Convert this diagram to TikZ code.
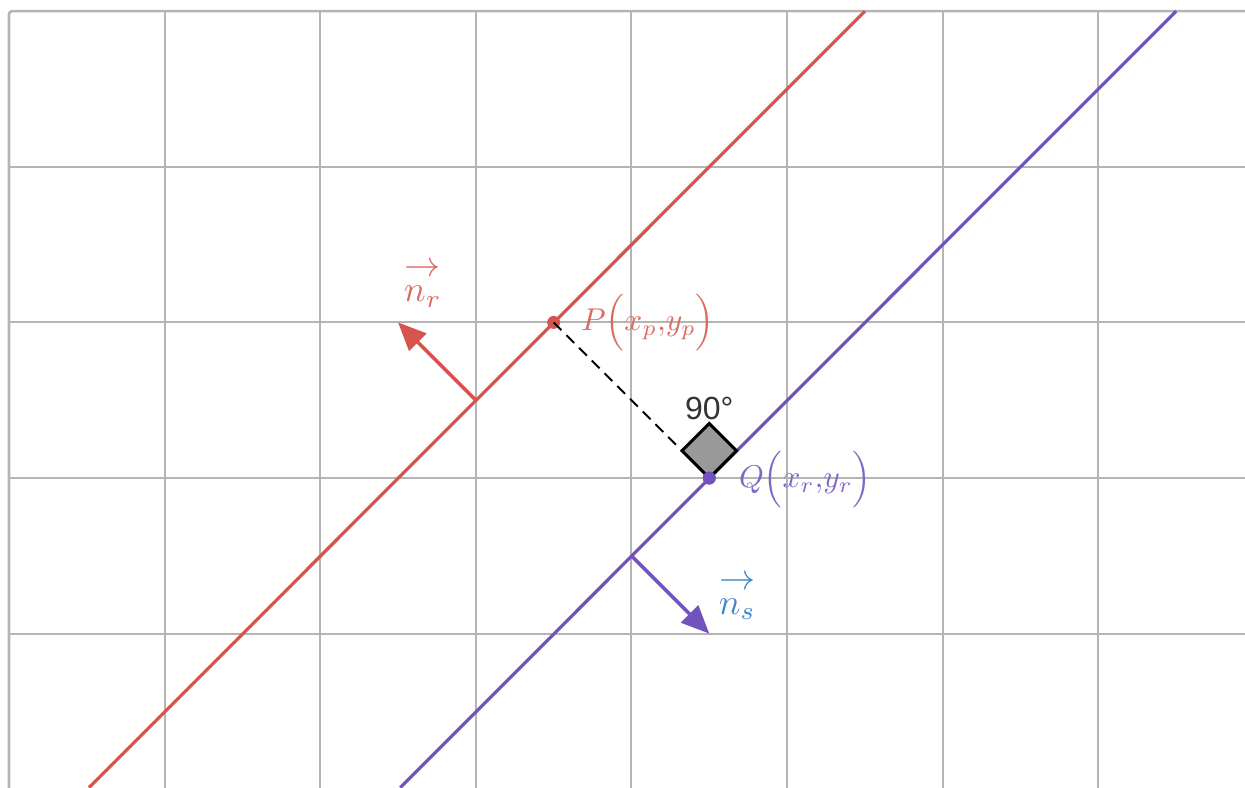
\documentclass[tikz,border=0pt]{standalone}
\usepackage{fontspec}
\usepackage{graphicx}
\newfontfamily\arialf{Liberation Sans}
\usetikzlibrary{arrows.meta}
\definecolor{gridc}{HTML}{B4B4B4}
\definecolor{redc}{HTML}{D6534E}
\definecolor{redt}{HTML}{DB6A64}
\definecolor{purc}{HTML}{7352BE}
\definecolor{purt}{HTML}{8066C8}
\definecolor{bluet}{HTML}{4286C8}
\newcommand{\ptlab}[1]{\scalebox{3.15}{#1}}
\newcommand{\veclab}[1]{\scalebox{3.6}{$\begin{array}{@{}c@{}}\rightarrow\\[-5pt] #1\end{array}$}}
\tikzset{
  gridline/.style={draw=gridc, line width=2pt},
  redline/.style={draw=redc, line width=3.2pt},
  purline/.style={draw=purc, line width=3.2pt},
  vecarrow/.style={line width=3.6pt, -{Triangle[length=28pt,width=24pt]}},
  mlabel/.style={inner sep=0pt},
  dot/.style={circle, inner sep=0pt, minimum size=13pt},
}
\begin{document}
\begin{tikzpicture}[x=155.6pt,y=155.6pt]
\useasboundingbox (-0.058,-1.986) rectangle (7.943,3.072);
% grid
\foreach \x in {1,...,7} \draw[gridline] (\x,-2.05) -- (\x,3);
\foreach \y in {-1,0,1,2} \draw[gridline] (0,\y) -- (8,\y);
\draw[gridline, line width=2.6pt, rounded corners=3pt] (0,-2.05) -- (0,3) -- (8,3);
% lines
\coordinate (rA) at (0.514,-1.99);
\coordinate (rB) at (5.5,3);
\coordinate (sA) at (2.514,-1.99);
\coordinate (sB) at (7.5,3);
\draw[redline] (rA) -- (rB);
\draw[purline] (sA) -- (sB);
% normal vectors
\coordinate (nrbase) at (3,0.5);
\coordinate (nrtip) at (2.5,1);
\coordinate (nsbase) at (4,-0.5);
\coordinate (nstip) at (4.5,-1);
\draw[vecarrow, draw=redc, fill=redc] (nrbase) -- (nrtip);
\draw[vecarrow, draw=purc, fill=purc] (nsbase) -- (nstip);
% right angle
\coordinate (cL) at (4.325,0.175);
\coordinate (cT) at (4.5,0.35);
\coordinate (cR) at (4.675,0.175);
\node[dot, fill=redc] (P) at (3.5,1) {};
\node[dot, fill=purc] (Q) at (4.5,0) {};
\draw[black, line width=1.8pt, dash pattern=on 11pt off 7pt] (P.center) -- (cL);
\draw[black, line width=3pt, fill=gray!80, line join=miter] (Q.center) -- (cL) -- (cT) -- (cR) -- cycle;
\node[dot, fill=purc] at (Q) {};
% labels
\node[font=\arialf\fontsize{32}{34}\selectfont, text=black!80, inner sep=0pt] (ang) at (4.5,0.45) {90°};
\node[mlabel, text=redt, anchor=west] (Plab) at (3.675,1.0) {\ptlab{$P\Bigl(x_p{,}y_p\Bigr)$}};
\node[mlabel, text=purt, anchor=west] (Qlab) at (4.69,-0.01) {\ptlab{$Q\Bigl(x_r{,}y_r\Bigr)$}};
\node[mlabel, text=redt] (nrlab) at (2.66,1.27) {\veclab{n_r}};
\node[mlabel, text=bluet] (nslab) at (4.68,-0.74) {\veclab{n_s}};
\end{tikzpicture}
\end{document}
